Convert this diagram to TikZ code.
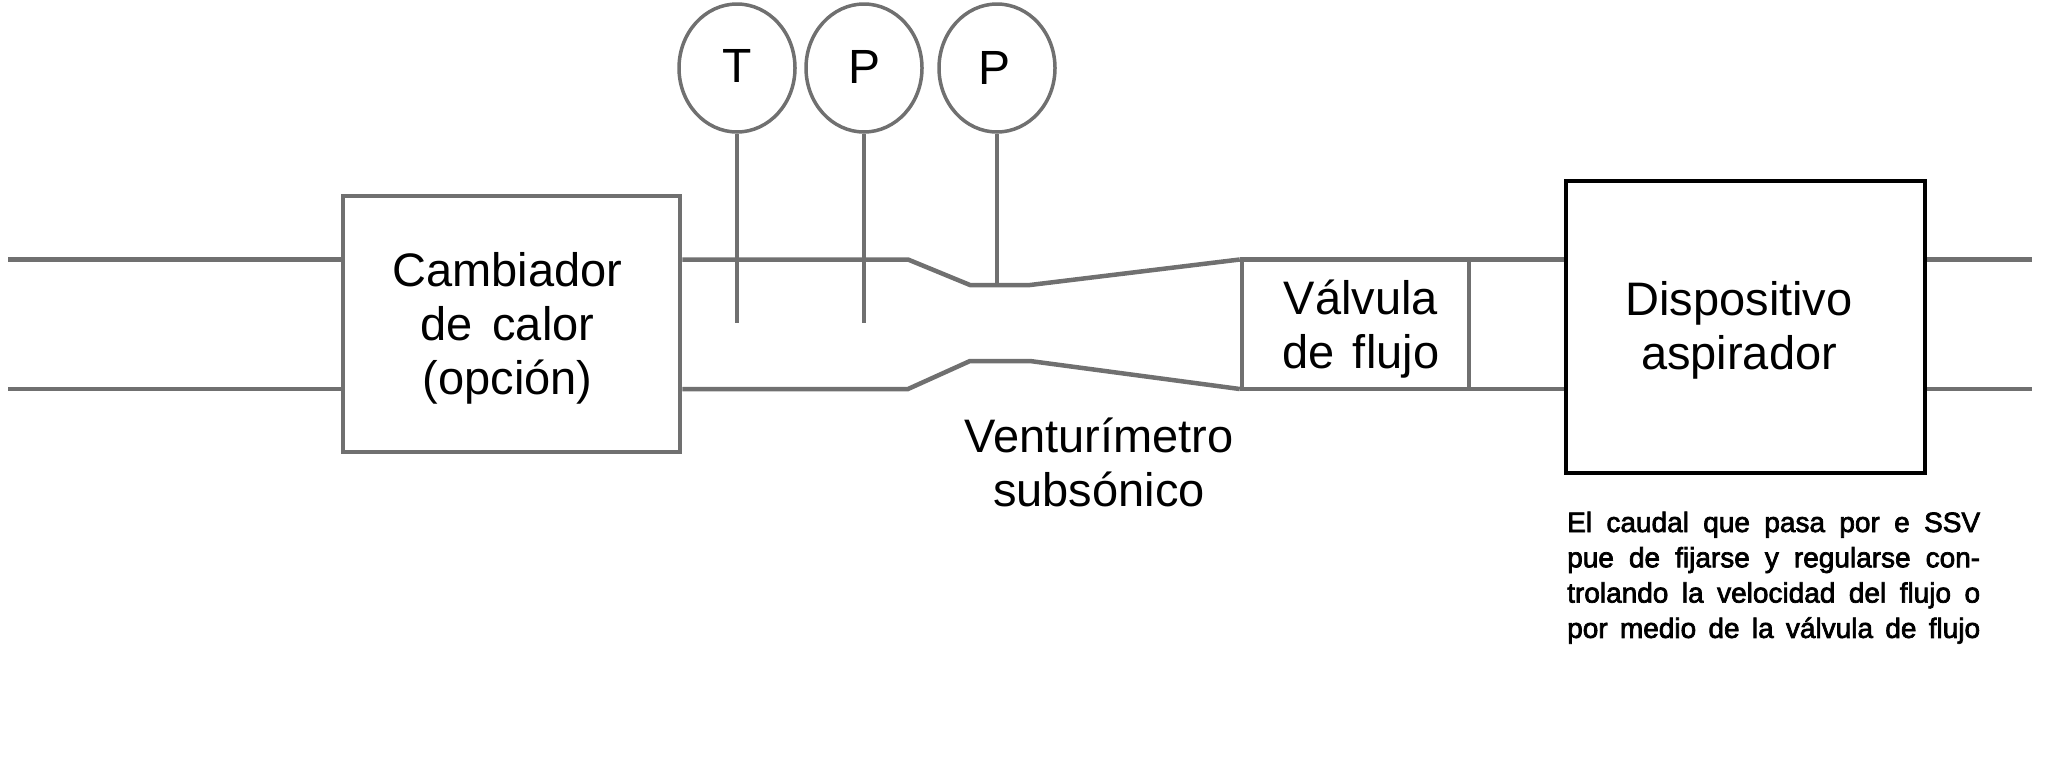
\documentclass[tikz,border=0pt]{standalone}
\usepackage{fontspec}
\usepackage{tikz}
\usepackage{xcolor}
\usetikzlibrary{shapes.geometric}
\setmainfont{Liberation Sans}
\newfontfamily\notefont[FakeBold=2.5]{Liberation Sans}
\definecolor{pipegray}{HTML}{707070}
\newcommand{\noteline}[1]{\makebox[413pt][s]{#1}}
\tikzset{
  pipe/.style={draw=pipegray,line width=4.5pt},
  stem/.style={draw=pipegray,line width=3.5pt},
  unitbox/.style={draw=pipegray,line width=4.5pt,inner sep=0pt},
  gauge/.style={draw=pipegray,line width=3.5pt,ellipse,inner sep=0pt,minimum width=116pt,minimum height=128pt,font=\fontsize{48}{54}\selectfont},
  caption/.style={inner sep=0pt,align=center,font=\fontsize{47}{54}\selectfont}
}
\begin{document}
\begin{tikzpicture}[x=1pt,y=-1pt]
\useasboundingbox (0,0) rectangle (2047,780);
\node[unitbox,minimum width=337pt,minimum height=256pt] (heater) at (511.5,324) {};
\node[unitbox,minimum width=227pt,minimum height=129.5pt] (valve) at (1355.5,324.25) {};
\node[unitbox,draw=black,minimum width=359pt,minimum height=292pt] (suction) at (1745.5,327) {};
\node[caption] (heaterText) at (507.5,328) {Cambiador\\de\hspace{19.5pt}calor\\(opción)};
\node[caption] (valveText) at (1361,329) {Válvula\\de\hspace{18pt}flujo};
\node[caption] (suctionText) at (1739,330.5) {Dispositivo\\aspirador};
\node[gauge] (tempT) at (737,68) {\raisebox{4pt}{T}};
\node[gauge] (pressA) at (864,68) {\raisebox{3pt}{P}};
\node[gauge] (pressB) at (997,68) {\hspace*{-6pt}P};
\coordinate (inT) at (8,259.5);
\coordinate (inB) at (8,389);
\coordinate (outT) at (2032,259.5);
\coordinate (outB) at (2032,389);
\coordinate (conT) at (908,259.5);
\coordinate (thrT) at (970,285);
\coordinate (difT) at (1030,285);
\coordinate (conB) at (908,389);
\coordinate (thrB) at (970,361);
\coordinate (difB) at (1030,361);
\coordinate (tempEnd) at (737,323);
\coordinate (pressEnd) at (864,323);
\draw[pipe] (inT) -- (inT -| heater.west);
\draw[pipe] (inB) -- (inB -| heater.west);
\draw[pipe] (inT -| heater.east) -- (conT) -- (thrT) -- (difT) -- (inT -| valve.west);
\draw[pipe] (inB -| heater.east) -- (conB) -- (thrB) -- (difB) -- (inB -| valve.west);
\draw[pipe] (inT -| valve.east) -- (inT -| suction.west);
\draw[pipe] (inB -| valve.east) -- (inB -| suction.west);
\draw[pipe] (outT -| suction.east) -- (outT);
\draw[pipe] (outB -| suction.east) -- (outB);
\draw[stem] (tempT.south) -- (tempEnd);
\draw[stem] (pressA.south) -- (pressEnd);
\draw[stem] (pressB.south) -- (pressB.south |- thrT);
\node[caption] (venturi) at (1099,462) {Venturímetro\\subsónico};
\node[inner sep=0pt,anchor=north west,align=left,font=\fontsize{28}{35.3}\selectfont\notefont] (note) at (1567,511.5) {\noteline{El caudal que pasa por e SSV}\\\noteline{pue de fijarse y regularse con-}\\\noteline{trolando la velocidad del flujo o}\\\noteline{por medio de la válvula de flujo}};
\end{tikzpicture}
\end{document}
